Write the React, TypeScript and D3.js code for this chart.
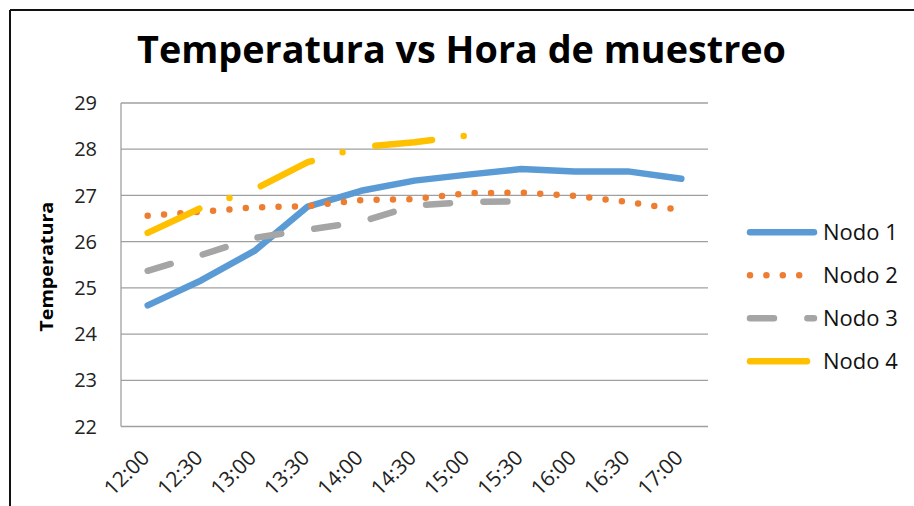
import React from 'react';
import * as d3 from 'd3';

const horas = ['12:00', '12:30', '13:00', '13:30', '14:00', '14:30', '15:00', '15:30', '16:00', '16:30', '17:00'];
const nodo1 = [24.62, 25.16, 25.8, 26.76, 27.1, 27.32, 27.45, 27.57, 27.52, 27.52, 27.36];
const nodo2 = [26.56, 26.65, 26.74, 26.77, 26.9, 26.92, 27.05, 27.06, 26.99, 26.86, 26.68];
const nodo3 = [25.37, 25.71, 26.08, 26.26, 26.43, 26.78, 26.86, 26.87, null, null, null];
const nodo4 = [26.19, 26.73, 27.13, 27.72, 28.05, 28.15, 28.3, null, null, null, null];
const yTicks = [22, 23, 24, 25, 26, 27, 28, 29];

const series = [
  { name: 'Nodo 1', values: nodo1, color: '#5B9BD5', dash: 'none' },
  { name: 'Nodo 2', values: nodo2, color: '#ED7D31', dash: '0 16.4' },
  { name: 'Nodo 3', values: nodo3, color: '#A5A5A5', dash: '24 33.4' },
  { name: 'Nodo 4', values: nodo4, color: '#FFC000', dash: '57 32 0 33.5' },
];

const W = 914, H = 506;
const plot = { left: 121, right: 708, top: 103, bottom: 426.5 };
const font = '"Open Sans", "Noto Sans", sans-serif';

export default function App() {
  const x = d3.scalePoint<string>().domain(horas).range([plot.left, plot.right]).padding(0.5);
  const y = d3.scaleLinear().domain([22, 29]).range([plot.bottom, plot.top]);
  const line = d3.line<number | null>()
    .defined(d => d !== null)
    .x((_, i) => x(horas[i]) as number)
    .y(d => y(d as number));

  return (
    <svg width={W} height={H} viewBox={`0 0 ${W} ${H}`} style={{ position: 'absolute', left: 0, top: 0, background: '#fff' }}>
      <rect x={0} y={0} width={W} height={H} fill="#fff" />
      <line x1={10} x2={W} y1={10} y2={10} stroke="#111" strokeWidth={2} />
      <line x1={10} x2={10} y1={10} y2={H} stroke="#111" strokeWidth={2} />

      <text x={461.5} y={63.3} textAnchor="middle" fontFamily={font} fontWeight="bold" fontSize={38}
        textLength={649} lengthAdjust="spacingAndGlyphs" fill="#000">Temperatura vs Hora de muestreo</text>

      {yTicks.map(t => (
        <g key={t}>
          <line x1={plot.left} x2={plot.right} y1={y(t)} y2={y(t)} stroke="#A0A0A0" strokeWidth={1.3} />
          <text x={97} y={y(t)} dy="0.36em" textAnchor="end" fontFamily={font} fontSize={20} fill="#222">{t}</text>
        </g>
      ))}
      <line x1={plot.left} x2={plot.left} y1={plot.top} y2={plot.bottom} stroke="#A0A0A0" strokeWidth={1.3} />

      {horas.map(h => (
        <text key={h} transform={`translate(${(x(h) as number) + 3},459) rotate(-45)`} textAnchor="end"
          fontFamily={font} fontSize={21} fill="#222">{h}</text>
      ))}

      <text transform="translate(53,266.7) rotate(-90)" textAnchor="middle" fontFamily={font} fontWeight="bold"
        fontSize={18} textLength={130} lengthAdjust="spacingAndGlyphs" fill="#000">Temperatura</text>

      {series.map(s => (
        <path key={s.name} d={line(s.values) || ''} fill="none" stroke={s.color} strokeWidth={6.5}
          strokeLinecap="round" strokeLinejoin="round" strokeDasharray={s.dash} />
      ))}

      {series.map((s, i) => {
        const ly = 232.3 + i * 43;
        return (
          <g key={s.name}>
            <line x1={750} x2={814} y1={ly} y2={ly} stroke={s.color} strokeWidth={6.5}
              strokeLinecap="round" strokeDasharray={s.dash} />
            <text x={823} y={ly} dy="0.36em" fontFamily={font} fontSize={22} fill="#111">{s.name}</text>
          </g>
        );
      })}
    </svg>
  );
}
